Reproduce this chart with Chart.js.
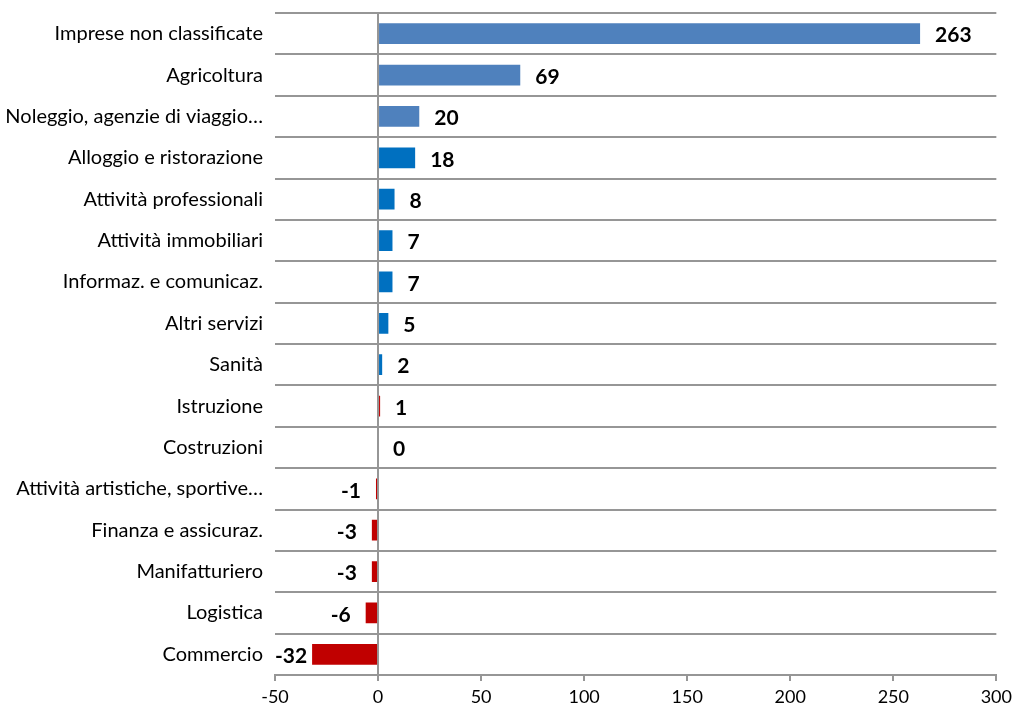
<!DOCTYPE html>
<html>
<head>
<meta charset="utf-8">
<script src="https://cdn.jsdelivr.net/npm/chart.js@4.4.1/dist/chart.umd.min.js"></script>
<style>
html,body{margin:0;padding:0;background:#fff;}
#wrap{width:1017px;height:711px;position:relative;}
</style>
</head>
<body>
<div id="wrap"><canvas id="c"></canvas></div>
<script>
const categories = [
  "Imprese non classificate",
  "Agricoltura",
  "Noleggio, agenzie di viaggio…",
  "Alloggio e ristorazione",
  "Attività professionali",
  "Attività immobiliari",
  "Informaz. e comunicaz.",
  "Altri servizi",
  "Sanità",
  "Istruzione",
  "Costruzioni",
  "Attività artistiche, sportive…",
  "Finanza e assicuraz.",
  "Manifatturiero",
  "Logistica",
  "Commercio"
];
const values = [263, 69, 20, 18, 8, 7, 7, 5, 2, 1, 0, -1, -3, -3, -6, -32];
const barColors = [
  "#4F81BD", "#4F81BD", "#4F81BD",
  "#0070C0", "#0070C0", "#0070C0", "#0070C0", "#0070C0", "#0070C0",
  "#C00000", "#C00000", "#C00000", "#C00000", "#C00000", "#C00000", "#C00000"
];
const xTicks = [-50, 0, 50, 100, 150, 200, 250, 300];

const FONT = "Lato, 'Open Sans', sans-serif";
const GRID = "#969696";

const labelPlugin = {
  id: "valueLabels",
  afterDatasetsDraw(chart) {
    const ctx = chart.ctx;
    const meta = chart.getDatasetMeta(0);
    const area = chart.chartArea;
    const xs = chart.scales.x;
    const zero = xs.getPixelForValue(0);
    ctx.save();
    ctx.font = "bold 21px " + FONT;
    ctx.fillStyle = "#000";
    ctx.textBaseline = "middle";
    meta.data.forEach((bar, i) => {
      const v = values[i];
      const txt = String(v);
      const w = ctx.measureText(txt).width;
      let x;
      if (v >= 0) {
        x = Math.max(bar.x, zero) + 15;
      } else {
        x = bar.x - 15 - w;
        if (x < area.left) x = area.left;
      }
      ctx.textAlign = "left";
      ctx.fillText(txt, x, bar.y + 2);
    });
    ctx.restore();
  }
};

new Chart(document.getElementById("c"), {
  type: "bar",
  data: {
    labels: categories,
    datasets: [{
      data: values,
      backgroundColor: barColors,
      borderWidth: 0,
      barPercentage: 0.5,
      categoryPercentage: 1.0
    }]
  },
  options: {
    indexAxis: "y",
    responsive: true,
    maintainAspectRatio: false,
    animation: false,
    layout: { padding: { top: 13, right: 16, left: 0, bottom: 0 } },
    plugins: { legend: { display: false }, tooltip: { enabled: false } },
    scales: {
      x: {
        type: "linear",
        min: -50,
        max: 300,
        afterBuildTicks(scale) { scale.ticks = xTicks.map(v => ({ value: v })); },
        afterFit(scale) { scale.height = 36; },
        grid: {
          color: (c) => (c.tick && c.tick.value === 0 ? GRID : "rgba(0,0,0,0)"),
          tickColor: GRID,
          lineWidth: 2,
          tickLength: 6,
          drawTicks: true
        },
        border: { display: true, color: GRID, width: 2 },
        ticks: {
          color: "#000",
          font: { family: FONT, size: 18 },
          padding: 5,
          maxRotation: 0
        }
      },
      y: {
        afterFit(scale) {
          scale.width = 275;
          scale.paddingTop = 0;
          scale.paddingBottom = 0;
        },
        grid: {
          offset: true,
          color: GRID,
          lineWidth: 2,
          drawTicks: false
        },
        border: { display: false },
        ticks: {
          color: "#000",
          font: { family: FONT, size: 20 },
          padding: 12,
          autoSkip: false
        }
      }
    }
  },
  plugins: [labelPlugin]
});
</script>
</body>
</html>
